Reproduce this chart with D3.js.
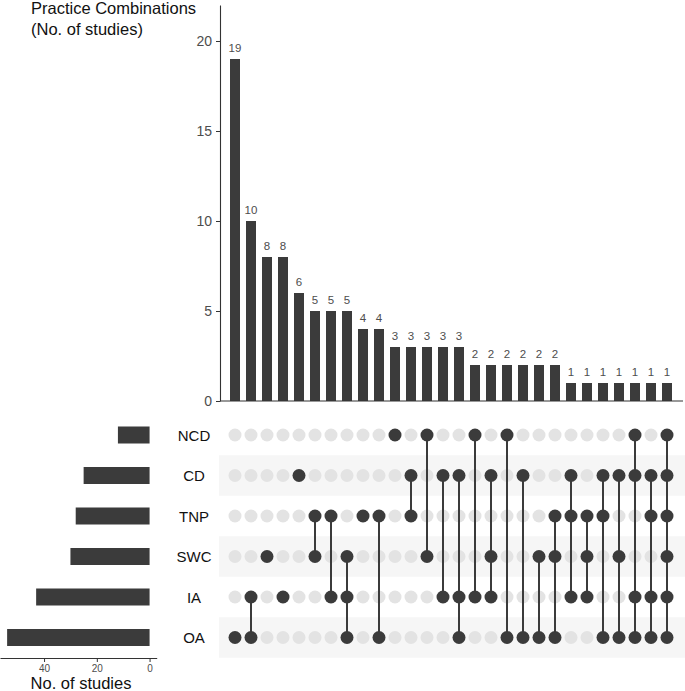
<!DOCTYPE html>
<html>
<head>
<meta charset="utf-8">
<script src="https://cdn.jsdelivr.net/npm/d3@7"></script>
<style>
  body { margin: 0; background: #fff; }
  svg { display: block; font-family: "Liberation Sans", Arial, sans-serif; }
</style>
</head>
<body>
<div id="chart-area"></div>
<script>
// Datos: conjuntos (de arriba a abajo) y tamaño de cada uno
var sets = ["NCD", "CD", "TNP", "SWC", "IA", "OA"];
var setSizes = [12, 25, 28, 30, 43, 54];

// Combinaciones (columnas de la matriz) y su número de estudios
var combos = [
    ["OA"], ["IA", "OA"], ["SWC"], ["IA"], ["CD"],
    ["TNP", "SWC"], ["TNP", "IA"], ["SWC", "IA", "OA"], ["TNP"], ["TNP", "OA"],
    ["NCD"], ["CD", "TNP"], ["NCD", "SWC"], ["CD", "IA"], ["CD", "IA", "OA"],
    ["NCD", "IA"], ["CD", "SWC", "IA"], ["NCD", "OA"], ["CD", "OA"], ["SWC", "OA"],
    ["TNP", "SWC", "OA"], ["CD", "TNP", "IA"], ["TNP", "SWC", "IA"], ["CD", "TNP", "OA"],
    ["CD", "SWC", "OA"], ["NCD", "CD", "IA", "OA"], ["CD", "TNP", "IA", "OA"],
    ["NCD", "CD", "TNP", "SWC", "IA", "OA"]
];
var combCounts = [19, 10, 8, 8, 6, 5, 5, 5, 4, 4, 3, 3, 3, 3, 3, 2, 2, 2, 2, 2, 2, 1, 1, 1, 1, 1, 1, 1];

var yTicks = [0, 5, 10, 15, 20];
var sizeTicks = [0, 20, 40];

var dark = "#3b3b3b";
var grey = "#4d4d4d";

var svg = d3.select("#chart-area").append("svg")
    .attr("width", 685)
    .attr("height", 691);

// Escalas
var x = d3.scalePoint().domain(d3.range(combos.length)).range([235, 667]);
var barW = 10;
var y = d3.scaleLinear().domain([0, 22]).range([401, 5]);
var row = d3.scalePoint().domain(sets).range([435, 637.5]);
var rowH = 40.5;
var xs = d3.scaleLinear().domain([-2.7, 56.7]).range([156.7, 0]);

// Franjas de fondo de la matriz
svg.selectAll("rect.stripe")
    .data(sets.filter((d, i) => i % 2 == 1))
    .enter()
    .append("rect")
        .attr("class", "stripe")
        .attr("x", 219)
        .attr("y", (d) => row(d) - rowH / 2)
        .attr("width", 466)
        .attr("height", rowH)
        .attr("fill", "#f6f6f6");

// Barras de combinaciones
svg.selectAll("rect.bar")
    .data(combCounts)
    .enter()
    .append("rect")
        .attr("class", "bar")
        .attr("x", (d, i) => x(i) - barW / 2)
        .attr("y", (d) => y(d))
        .attr("width", barW)
        .attr("height", (d) => y(0) - y(d))
        .attr("fill", dark);

svg.selectAll("text.count")
    .data(combCounts)
    .enter()
    .append("text")
        .attr("class", "count")
        .attr("x", (d, i) => x(i))
        .attr("y", (d) => y(d) - 7)
        .attr("text-anchor", "middle")
        .attr("font-size", "11.5px")
        .attr("fill", grey)
        .text((d) => d);

// Eje y superior
var yAxis = svg.append("g")
    .attr("transform", "translate(220,0)")
    .call(d3.axisLeft(y).tickValues(yTicks).tickSize(4).tickPadding(4).tickSizeOuter(0));
yAxis.select(".domain").attr("stroke", "#333").attr("stroke-width", 1.1);
yAxis.selectAll(".tick line").attr("stroke", "#333");
yAxis.selectAll(".tick text").attr("font-size", "14px").attr("fill", grey)
    .attr("font-family", "Liberation Sans, Arial, sans-serif");

svg.append("line")
    .attr("x1", 220).attr("x2", 683)
    .attr("y1", y(0)).attr("y2", y(0))
    .attr("stroke", "#333")
    .attr("stroke-width", 1.1);

svg.append("text")
    .attr("x", 31)
    .attr("y", 13.5)
    .attr("font-size", "16.5px")
    .attr("fill", "#111")
    .text("Practice Combinations");
svg.append("text")
    .attr("x", 31)
    .attr("y", 34.5)
    .attr("font-size", "16.5px")
    .attr("fill", "#111")
    .text("(No. of studies)");

// Matriz: primero los puntos vacíos, luego las líneas y los puntos llenos
combos.forEach(function(c, i) {
    svg.selectAll(null)
        .data(sets.filter((d) => c.indexOf(d) < 0))
        .enter()
        .append("circle")
            .attr("cx", x(i))
            .attr("cy", (d) => row(d))
            .attr("r", 6.5)
            .attr("fill", "#e3e3e3");
});

combos.forEach(function(c, i) {
    if (c.length > 1) {
        var ys = c.map((d) => row(d));
        svg.append("line")
            .attr("x1", x(i)).attr("x2", x(i))
            .attr("y1", d3.min(ys)).attr("y2", d3.max(ys))
            .attr("stroke", dark)
            .attr("stroke-width", 2);
    }

    svg.selectAll(null)
        .data(c)
        .enter()
        .append("circle")
            .attr("cx", x(i))
            .attr("cy", (d) => row(d))
            .attr("r", 6.5)
            .attr("fill", dark);
});

// Etiquetas de filas
svg.selectAll("text.set")
    .data(sets)
    .enter()
    .append("text")
        .attr("class", "set")
        .attr("x", 194)
        .attr("y", (d) => row(d) + 5.5)
        .attr("text-anchor", "middle")
        .attr("font-size", "15px")
        .attr("fill", "#111")
        .text((d) => d);

// Barras de tamaño de conjuntos
svg.selectAll("rect.size")
    .data(setSizes)
    .enter()
    .append("rect")
        .attr("class", "size")
        .attr("x", (d) => xs(d))
        .attr("y", (d, i) => row(sets[i]) - 8.5)
        .attr("width", (d) => xs(0) - xs(d))
        .attr("height", 17)
        .attr("fill", dark);

var sAxis = svg.append("g")
    .attr("transform", "translate(0,658)")
    .call(d3.axisBottom(xs).tickValues(sizeTicks).tickSize(4).tickPadding(3).tickSizeOuter(0));
sAxis.select(".domain").attr("stroke", "#333").attr("stroke-width", 1.1);
sAxis.selectAll(".tick line").attr("stroke", "#333");
sAxis.selectAll(".tick text").attr("font-size", "10px").attr("fill", grey)
    .attr("font-family", "Liberation Sans, Arial, sans-serif");

svg.append("text")
    .attr("x", 81)
    .attr("y", 689)
    .attr("text-anchor", "middle")
    .attr("font-size", "16.5px")
    .attr("fill", "#111")
    .text("No. of studies");
</script>
</body>
</html>
